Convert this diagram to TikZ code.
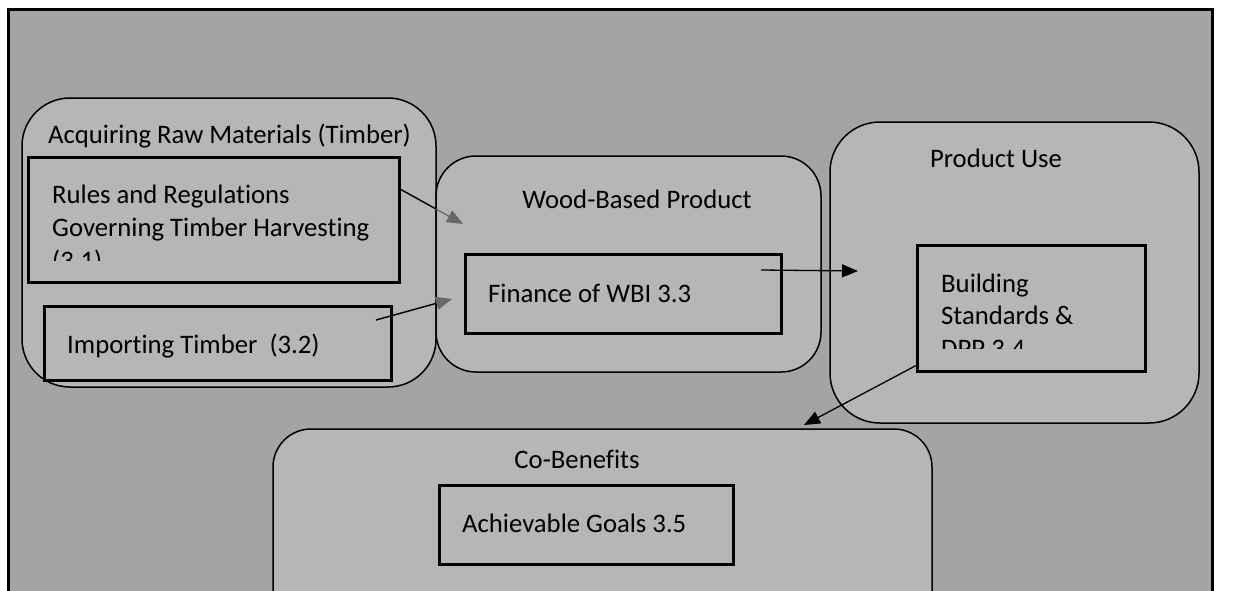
\documentclass[tikz,border=0pt]{standalone}
\usepackage{fontspec}
\setmainfont{Carlito}[Ligatures={NoCommon}]
\usetikzlibrary{arrows.meta}
\definecolor{bgray}{HTML}{A4A4A4}
\definecolor{ggray}{HTML}{B6B6B6}
\definecolor{agray}{HTML}{686868}
\begin{document}
\begin{tikzpicture}[x=1pt,y=-1pt,
  group/.style={draw=black, line width=1.5pt, fill=ggray, rounded corners=#1,
    inner sep=0pt, outer sep=0pt, anchor=north west},
  group/.default=45pt,
  box/.style={draw=black, line width=3pt, fill=ggray, inner sep=0pt, outer sep=0pt,
    anchor=north west},
  lbl/.style={inner sep=0pt, font=\fontsize{26.7}{33}\selectfont, text=black},
  conn/.style={draw=black, line width=1.3pt},
  headb/.style={-{Triangle[length=16pt,width=13pt]}},
  headg/.style={-{Triangle[length=16pt,width=13pt,color=agray]}}
]
\useasboundingbox (0,0) rectangle (1259,590);
\clip (0,0) rectangle (1259,590);
% background frame
\node[draw=black, line width=3pt, fill=bgray, inner sep=0pt, outer sep=0pt, anchor=north west,
  minimum width=1204pt, minimum height=600pt] (frame) at (8,9) {};

% groups
\node[group=48pt, minimum width=414pt, minimum height=289pt] (g1) at (22,98) {};
\node[group=40pt, minimum width=385pt, minimum height=216pt] (g2) at (436,156) {};
\node[group=50pt, minimum width=369pt, minimum height=301pt] (g3) at (830,122) {};
\node[group=38pt, minimum width=659pt, minimum height=200pt] (g4) at (273,429) {};

% boxes
\node[box, minimum width=371pt, minimum height=125pt] (b31) at (28,157) {};
\node[box, minimum width=347pt, minimum height=74pt] (b32) at (44,306) {};
\node[box, minimum width=316pt, minimum height=79pt] (b33) at (465,254) {};
\node[box, minimum width=228pt, minimum height=126pt] (b34) at (917,245) {};
\node[box, minimum width=294pt, minimum height=79pt] (b35) at (439,485) {};

% titles
\node[lbl, anchor=base west] (t1) at (48,143) {Acquiring Raw Materials (Timber)};
\node[lbl, anchor=base] (t2) at (637,208) {Wood-Based Product};
\node[lbl, anchor=base] (t3) at (996,167) {Product Use};
\node[lbl, anchor=base] (t4) at (577,468) {Co-Benefits};

% box texts
\begin{scope}
  \clip (30,159) rectangle (397,260);
  \node[lbl, anchor=base west] (l311) at (52,203) {Rules and Regulations};
  \node[lbl, anchor=base west] (l312) at (52,236) {Governing Timber Harvesting};
  \node[lbl, anchor=base west] (l313) at (52,269) {(3.1)};
\end{scope}
\node[lbl, anchor=base west] (l32) at (67,353) {Importing Timber\ \ (3.2)};
\node[lbl, anchor=base west] (l33) at (488,302) {Finance of WBI 3.3};
\begin{scope}
  \clip (919,247) rectangle (1143,348);
  \node[lbl, anchor=base west] (l341) at (941,292) {Building};
  \node[lbl, anchor=base west] (l342) at (941,324) {Standards \&};
  \node[lbl, anchor=base west] (l343) at (941,357) {DPP 3.4};
\end{scope}
\node[lbl, anchor=base west] (l35) at (462,532) {Achievable Goals 3.5};

% connectors
\coordinate (s1) at (400,189);
\coordinate (e1) at (463,224);
\coordinate (s2) at (376,320);
\coordinate (e2) at (452,299);
\coordinate (s3) at (761,270);
\coordinate (e3) at (858,271);
\coordinate (s4) at (917,365);
\coordinate (e4) at (804,425);

\draw[conn, draw=agray, headg] (s1) -- (e1);
\draw[conn, draw=agray, headg] (s2) -- (e2);
\begin{scope}
  \clip (0,0) rectangle (g2.west |- 0,590);
  \draw[conn] (s1) -- (e1);
  \draw[conn] (s2) -- (e2);
\end{scope}
\draw[conn, headb] (s3) -- (e3);
\draw[conn, headb] (s4) -- (e4);
\end{tikzpicture}
\end{document}
